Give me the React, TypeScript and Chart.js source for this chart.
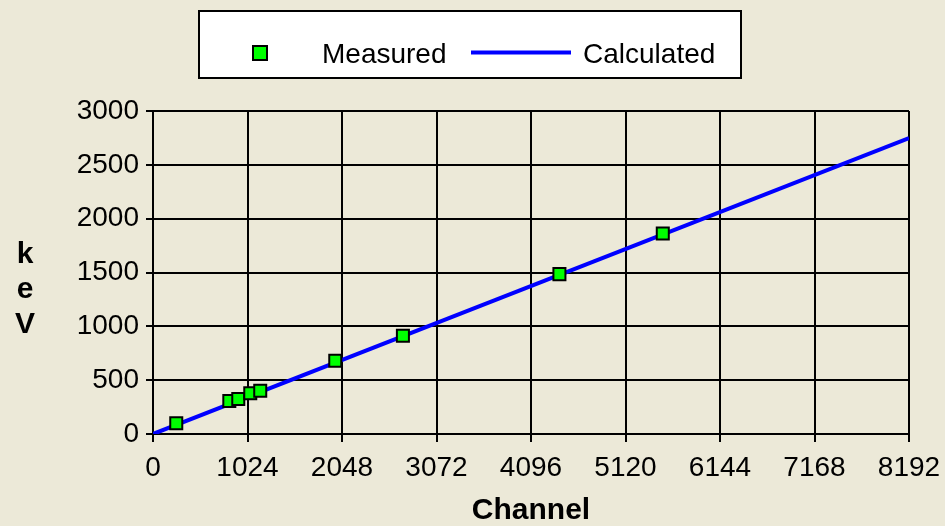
import React, { useEffect, useRef } from "react";
import { Chart, registerables } from "chart.js";

Chart.register(...registerables);

// Calibration peaks: channel number and energy in keV
const measuredChannels = [252, 827, 924, 1054, 1162, 1975, 2708, 4404, 5524];
const measuredKeV = [99, 306, 325, 378, 402, 680, 912, 1485, 1862];

// Fitted calibration line end points
const calculatedChannels = [0, 8192];
const calculatedKeV = [0, 2749];

const xTickValues = [0, 1024, 2048, 3072, 4096, 5120, 6144, 7168, 8192];
const yTickValues = [0, 500, 1000, 1500, 2000, 2500, 3000];

const legendLabels = ["Measured", "Calculated"];
const xTitle = "Channel";
const yTitleLetters = ["k", "e", "V"];

const FONT = '"Liberation Sans", Arial, sans-serif';
const BG = "#ECE9D8";
const MEASURED_FILL = "#00FF00";
const LINE_BLUE = "#0000FF";

const legendBoxPlugin = {
  id: "legendBox",
  afterDraw(chart: any) {
    const ctx = chart.ctx;
    ctx.save();
    // framed white legend panel
    ctx.fillStyle = "#FFFFFF";
    ctx.fillRect(199, 11, 542, 67);
    ctx.strokeStyle = "#000000";
    ctx.lineWidth = 2;
    ctx.strokeRect(199, 11, 542, 67);

    const cy = 53;
    // measured marker
    ctx.fillStyle = MEASURED_FILL;
    ctx.fillRect(253, cy - 7, 14, 14);
    ctx.strokeStyle = "#000000";
    ctx.lineWidth = 2;
    ctx.strokeRect(253, cy - 7, 14, 14);

    ctx.fillStyle = "#000000";
    ctx.font = `28px ${FONT}`;
    ctx.textBaseline = "alphabetic";
    ctx.textAlign = "left";
    ctx.fillText(legendLabels[0], 322, 63);

    // calculated line sample
    ctx.strokeStyle = LINE_BLUE;
    ctx.lineWidth = 4;
    ctx.beginPath();
    ctx.moveTo(471, 52.5);
    ctx.lineTo(571, 52.5);
    ctx.stroke();

    ctx.fillText(legendLabels[1], 583, 63);

    // vertical y-axis title, one letter per line
    ctx.font = `bold 30px ${FONT}`;
    ctx.textAlign = "center";
    yTitleLetters.forEach((ch, i) => {
      ctx.fillText(ch, 25, 263 + i * 35);
    });
    ctx.restore();
  },
};

export default function App() {
  const canvasRef = useRef<HTMLCanvasElement | null>(null);

  useEffect(() => {
    document.body.style.margin = "0";
    document.body.style.background = BG;
    const canvas = canvasRef.current;
    if (!canvas) return;

    const chart = new Chart(canvas, {
      type: "scatter",
      data: {
        datasets: [
          {
            label: legendLabels[0],
            data: measuredChannels.map((x, i) => ({ x, y: measuredKeV[i] })),
            showLine: false,
            pointStyle: "rect",
            pointRadius: 8.5,
            pointHoverRadius: 8.5,
            pointBackgroundColor: MEASURED_FILL,
            pointBorderColor: "#000000",
            pointBorderWidth: 2,
          },
          {
            label: legendLabels[1],
            data: calculatedChannels.map((x, i) => ({ x, y: calculatedKeV[i] })),
            showLine: true,
            borderColor: LINE_BLUE,
            borderWidth: 4,
            pointRadius: 0,
            pointHoverRadius: 0,
          },
        ],
      },
      options: {
        responsive: false,
        animation: false,
        events: [],
        layout: { padding: { top: 111, right: 36, left: 0, bottom: 0 } },
        plugins: {
          legend: { display: false },
          tooltip: { enabled: false },
        },
        scales: {
          x: {
            type: "linear",
            min: 0,
            max: 8192,
            afterBuildTicks: (scale: any) => {
              scale.ticks = xTickValues.map((value) => ({ value }));
            },
            afterFit: (scale: any) => {
              scale.height = 92;
              // the fixed layout padding already leaves room for the end labels
              scale.paddingLeft = 0;
              scale.paddingRight = 0;
            },
            grid: {
              color: "#000000",
              lineWidth: 2,
              drawTicks: true,
              tickLength: 8,
              tickColor: "#000000",
            },
            border: { display: true, color: "#000000", width: 2 },
            ticks: {
              color: "#000000",
              font: { family: FONT, size: 28 },
              padding: 9,
              maxRotation: 0,
              autoSkip: false,
              callback: (value: any) => String(value),
            },
            title: {
              display: true,
              text: xTitle,
              color: "#000000",
              font: { family: FONT, size: 30, weight: "bold", lineHeight: 1 },
              padding: { top: 0, bottom: 0 },
            },
          },
          y: {
            type: "linear",
            min: 0,
            max: 3000,
            afterBuildTicks: (scale: any) => {
              scale.ticks = yTickValues.map((value) => ({ value }));
            },
            afterFit: (scale: any) => {
              scale.width = 153;
            },
            grid: {
              color: "#000000",
              lineWidth: 2,
              drawTicks: true,
              tickLength: 7,
              tickColor: "#000000",
            },
            border: { display: true, color: "#000000", width: 2 },
            ticks: {
              color: "#000000",
              font: { family: FONT, size: 28 },
              padding: 7,
              autoSkip: false,
              callback: (value: any) => String(value),
            },
          },
        },
      },
      plugins: [legendBoxPlugin],
    });

    return () => chart.destroy();
  }, []);

  return (
    <div style={{ width: 945, height: 526, background: BG }}>
      <canvas ref={canvasRef} width={945} height={526} />
    </div>
  );
}
